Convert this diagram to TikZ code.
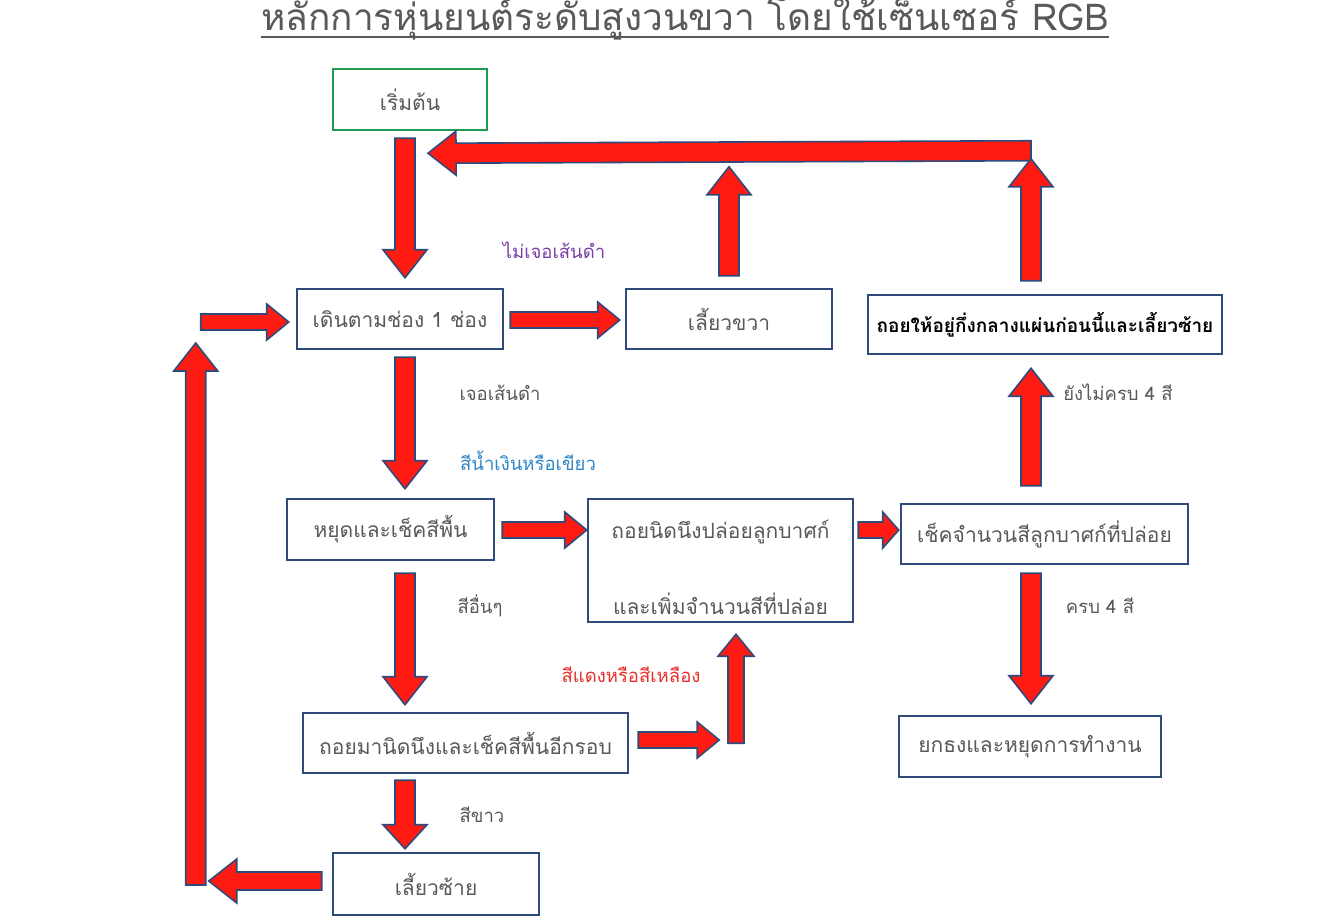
\documentclass[tikz,border=0pt]{standalone}
\usepackage{fontspec}
\newfontfamily\thai[Script=Thai]{Loma}
\usetikzlibrary{calc}
\definecolor{bdr}{HTML}{2F4B7C}
\definecolor{arred}{HTML}{FF1A12}
\definecolor{txtgray}{HTML}{595959}
\definecolor{startgreen}{HTML}{1F9A55}
\definecolor{lblpurple}{HTML}{7A3FA8}
\definecolor{lblblue}{HTML}{2E86C8}
\definecolor{lblred}{HTML}{E8302A}
\def\aw{10pt}\def\aW{22pt}\def\ah{28pt}
\tikzset{
  box/.style={draw=bdr, line width=2.5pt, fill=white, inner sep=0pt,
    text=txtgray, font=\thai\fontsize{21}{25}\selectfont, align=center},
  lbl/.style={text=txtgray, font=\thai\fontsize{18.5}{22}\selectfont, inner sep=0pt},
  aw/.code={\def\aw{#1}}, aW/.code={\def\aW{#1}}, ah/.code={\def\ah{#1}},
  barrow/.style={draw=bdr, fill=arred, line width=1.6pt, line join=miter,
    to path={let \p1=(\tikztostart), \p2=(\tikztotarget),
      \n1={veclen(\x2-\x1,\y2-\y1)}, \n2={(\x2-\x1)/\n1}, \n3={(\y2-\y1)/\n1} in
      ({\x1-\aw*\n3},{\y1+\aw*\n2})
      -- ({\x2-\ah*\n2-\aw*\n3},{\y2-\ah*\n3+\aw*\n2})
      -- ({\x2-\ah*\n2-\aW*\n3},{\y2-\ah*\n3+\aW*\n2})
      -- (\p2)
      -- ({\x2-\ah*\n2+\aW*\n3},{\y2-\ah*\n3-\aW*\n2})
      -- ({\x2-\ah*\n2+\aw*\n3},{\y2-\ah*\n3-\aw*\n2})
      -- ({\x1+\aw*\n3},{\y1-\aw*\n2}) -- cycle}}
}
\begin{document}
\begin{tikzpicture}[x=1pt,y=-1pt]
\useasboundingbox[fill=white] (0,0) rectangle (1338,922);

% title
\node[text=txtgray, font=\thai\fontsize{37}{42}\selectfont, inner sep=0pt, anchor=base] (title) at (685,30)
  {หลักการหุ่นยนต์ระดับสูงวนขวา โดยใช้เซ็นเซอร์ RGB};
\draw[txtgray, line width=2.5pt] ($(title.base west)+(0,7)$) -- ($(title.base east)+(0,7)$);

% boxes
\node[box, draw=startgreen, minimum width=154pt, minimum height=61pt] (start) at (410,99.5) {เริ่มต้น};
\node[box, minimum width=206pt, minimum height=60pt] (walk) at (400,319) {เดินตามช่อง 1 ช่อง};
\node[box, minimum width=206pt, minimum height=60pt] (tright) at (729,319) {เลี้ยวขวา};
\node[box, minimum width=354pt, minimum height=59pt, text=black,
      font=\thai\bfseries\fontsize{19}{22}\selectfont] (backc) at (1045,324.5) {ถอยให้อยู่กึ่งกลางแผ่นก่อนนี้และเลี้ยวซ้าย};
\node[box, minimum width=207pt, minimum height=61pt] (stopc) at (390.5,529.5) {หยุดและเช็คสีพื้น};
\node[box, minimum width=265pt, minimum height=123pt] (drop) at (720.5,560.5)
  {\rule{0pt}{32pt}ถอยนิดนึงปล่อยลูกบาศก์\\[48pt]และเพิ่มจำนวนสีที่ปล่อย};
\node[box, minimum width=287pt, minimum height=60pt] (cnt) at (1044.5,534) {เช็คจำนวนสีลูกบาศก์ที่ปล่อย};
\node[box, minimum width=325pt, minimum height=60pt] (backchk) at (465.5,743) {ถอยมานิดนึงและเช็คสีพื้นอีกรอบ};
\node[box, minimum width=206pt, minimum height=62pt] (tleft) at (436,884) {เลี้ยวซ้าย};
\node[box, minimum width=262pt, minimum height=61pt] (lift) at (1030,746.5) {ยกธงและหยุดการทำงาน};

% arrows
\draw[barrow] ($(backc.north)+(-14,-143)$) to ($(start.south)+(18,22)$);
\draw[barrow] ($(start.south)+(-5,7)$) to ($(walk.north)+(5,-10)$);
\draw[barrow] ($(walk.south)+(5,7)$) to ($(stopc.north)+(14.5,-9)$);
\draw[barrow] ($(stopc.south)+(14.5,12)$) to ($(backchk.north)+(-60.5,-7)$);
\draw[barrow, ah=24pt] ($(backchk.south)+(-60.5,6)$) to ($(tleft.north)+(-31,-3)$);
\draw[barrow, aw=9pt] ($(tleft.west)+(-10,-3)$) to ($(tleft.west)+(-123,-3)$);
\draw[barrow] ($(tleft.west)+(-136,1)$) to ($(walk.west)+(-100,24)$);
\draw[barrow, aw=8pt, aW=18pt, ah=22pt] ($(walk.west)+(-95,3)$) to ($(walk.west)+(-7,3)$);
\draw[barrow, aw=8pt, aW=18pt, ah=22pt] ($(walk.east)+(6,1)$) to ($(tright.west)+(-5,1)$);
\draw[barrow] ($(tright.north)+(0,-12)$) to ($(tright.north)+(0,-121)$);
\draw[barrow] ($(backc.north)+(-14,-13)$) to ($(backc.north)+(-14,-135)$);
\draw[barrow, aw=8pt, aW=18pt, ah=22pt] ($(stopc.east)+(7,0.5)$) to ($(drop.west)+(0,-30.5)$);
\draw[barrow, aw=8pt, aW=18pt, ah=16pt] ($(drop.east)+(4,-30.5)$) to ($(cnt.west)+(-1,-4)$);
\draw[barrow, aw=8pt, aW=18pt, ah=22pt] ($(backchk.east)+(9,-3)$) to ($(backchk.east)+(90,-3)$);
\draw[barrow, aw=8pt, aW=18pt, ah=22pt] ($(drop.south)+(15.5,120)$) to ($(drop.south)+(15.5,11)$);
\draw[barrow] ($(cnt.north)+(-13.5,-17)$) to ($(backc.south)+(-14,13)$);
\draw[barrow] ($(cnt.south)+(-13.5,8)$) to ($(lift.north)+(1,-11)$);

% labels
\node[lbl, text=lblpurple] (l1) at (554,250) {ไม่เจอเส้นดำ};
\node[lbl] (l2) at (500,393) {เจอเส้นดำ};
\node[lbl, text=lblblue] (l3) at (528,461) {สีน้ำเงินหรือเขียว};
\node[lbl] (l4) at (480,606) {สีอื่นๆ};
\node[lbl, text=lblred] (l5) at (631,675) {สีแดงหรือสีเหลือง};
\node[lbl] (l6) at (482,815) {สีขาว};
\node[lbl] (l7) at (1118,392) {ยังไม่ครบ 4 สี};
\node[lbl] (l8) at (1100,606) {ครบ 4 สี};
\end{tikzpicture}
\end{document}
